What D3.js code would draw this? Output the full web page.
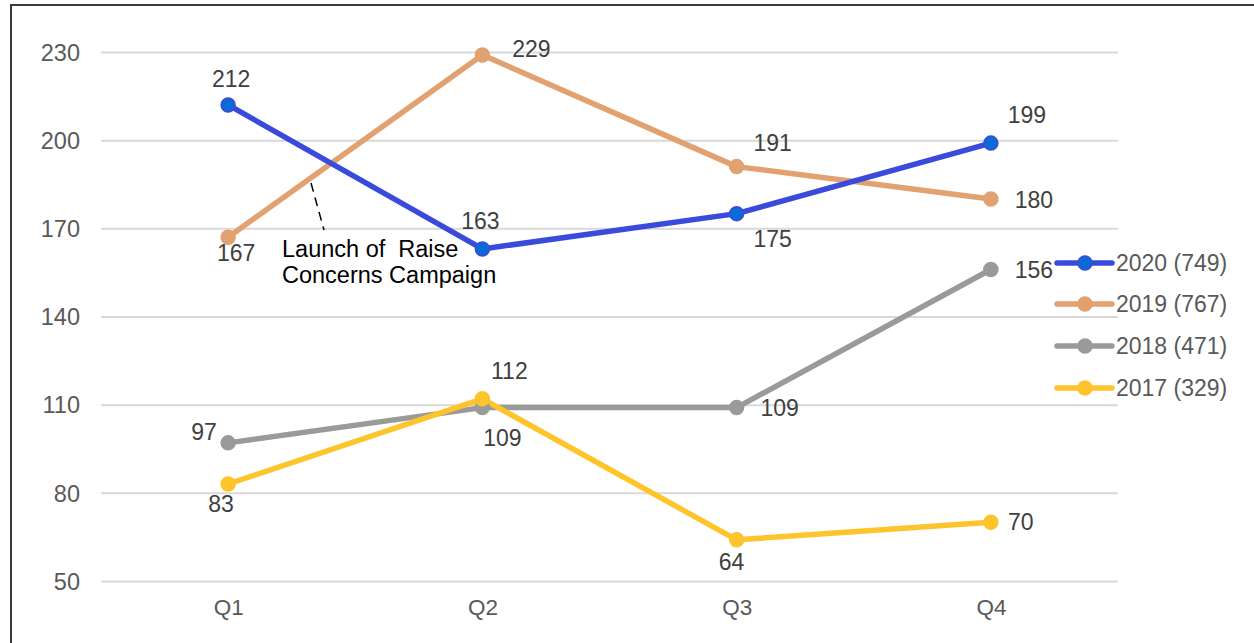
<!DOCTYPE html>
<html><head><meta charset="utf-8">
<script src="https://cdn.jsdelivr.net/npm/d3@7"></script>
<style>
html,body{margin:0;padding:0;background:#fff;}
svg{display:block;font-family:"Liberation Sans",Arial,sans-serif;}
</style></head>
<body>
<svg id="chart" width="1254" height="643"></svg>
<script>
const categories = ["Q1","Q2","Q3","Q4"];
const seriesNames = ["2020 (749)","2019 (767)","2018 (471)","2017 (329)"];
const values2020 = [212,163,175,199];
const values2019 = [167,229,191,180];
const values2018 = [97,109,109,156];
const values2017 = [83,112,64,70];
const yTicks = [50,80,110,140,170,200,230];
const annotationText = ["Launch of  Raise","Concerns Campaign"];

const colors = ["#3a4bdc","#e2a170","#9a9a9a","#fdc42c"];
const markerFill = ["#0b6ad4","#e2a170","#9a9a9a","#fdc42c"];
// label offsets (dx,dy) relative to point, per series
const labelOffsets = [
  [[3,-26],[-2,-28],[36,25],[36,-28]],
  [[8,16],[49,-6],[36,-24],[43,1]],
  [[-24,-11],[20,30],[43,0],[43,0]],
  [[-7,20],[27,-28],[-5,22],[30,0]]
];

const series = [values2020, values2019, values2018, values2017].map((v,i)=>({name:seriesNames[i], values:v, i}));

const svg = d3.select("#chart");
const x = d3.scalePoint().domain(categories).range([101,1118]).padding(0.5);
const y = d3.scaleLinear().domain([50,230]).range([581,52]);

// gridlines
const yAxis = d3.axisLeft(y).tickValues(yTicks).tickSize(-(1118-101)).tickPadding(21);
const gy = svg.append("g").attr("transform","translate(101,0)").call(yAxis);
gy.select(".domain").remove();
gy.selectAll(".tick line").attr("stroke","#d9d9d9").attr("stroke-width",2);
gy.selectAll(".tick text").attr("fill","#595959").style("font-size","23.5px").attr("dy","0.35em");

const xAxis = d3.axisBottom(x).tickSize(0).tickPadding(18);
const gx = svg.append("g").attr("transform","translate(0,581)").call(xAxis);
gx.select(".domain").remove();
gx.selectAll(".tick text").attr("fill","#595959").style("font-size","22.5px").attr("dy","0.71em");

// border (top and left)
svg.append("path").attr("d","M11,643V5H1254").attr("fill","none").attr("stroke","#3a3a3a").attr("stroke-width",2);

const line = d3.line().x((d,j)=>x(categories[j])).y(d=>y(d));
const drawOrder = [2,3,1,0];
drawOrder.forEach(i=>{
  const s = series[i];
  svg.append("path").datum(s.values).attr("d",line).attr("fill","none")
    .attr("stroke",colors[i]).attr("stroke-width",5.5).attr("stroke-linejoin","round");
});
drawOrder.forEach(i=>{
  const s = series[i];
  svg.append("g").selectAll("circle").data(s.values).join("circle")
    .attr("cx",(d,j)=>x(categories[j])).attr("cy",d=>y(d)).attr("r",7)
    .attr("fill",markerFill[i]).attr("stroke",colors[i]).attr("stroke-width",1.5);
});
// data labels
series.forEach(s=>{
  svg.append("g").selectAll("text").data(s.values).join("text")
    .attr("x",(d,j)=>x(categories[j])+labelOffsets[s.i][j][0])
    .attr("y",(d,j)=>y(d)+labelOffsets[s.i][j][1])
    .attr("text-anchor","middle").attr("dy","0.35em")
    .attr("fill","#404040").style("font-size","23px").text(d=>d);
});

// annotation
svg.append("line").attr("x1",311).attr("y1",183).attr("x2",324).attr("y2",230)
  .attr("stroke","#000").attr("stroke-width",1.5).attr("stroke-dasharray","9,6");
svg.append("text").attr("x",282).attr("y",257).attr("fill","#000").style("font-size","23.5px")
  .style("white-space","pre").attr("xml:space","preserve")
  .selectAll("tspan").data(annotationText).join("tspan")
  .attr("x",282).attr("dy",(d,i)=>i?26:0).text(d=>d);

// legend
const legendY = [263,304,346,388];
const lg = svg.append("g");
series.forEach((s,i)=>{
  const g = lg.append("g").attr("transform",`translate(0,${legendY[i]})`);
  g.append("line").attr("x1",1057).attr("x2",1112).attr("stroke",colors[i]).attr("stroke-width",5.5).attr("stroke-linecap","round");
  g.append("circle").attr("cx",1085).attr("r",7).attr("fill",markerFill[i]).attr("stroke",colors[i]).attr("stroke-width",1.5);
  g.append("text").attr("x",1116).attr("dy","0.35em").attr("fill","#595959").style("font-size","23px").text(s.name);
});
</script>
</body></html>
